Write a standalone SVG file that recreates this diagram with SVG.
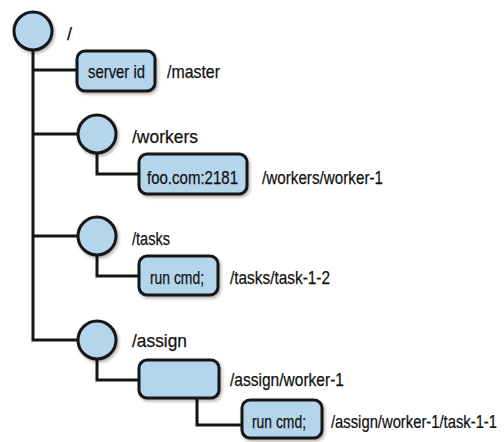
<svg xmlns="http://www.w3.org/2000/svg" width="504" height="442" viewBox="0 0 504 442">
<defs>
<filter id="sh" x="-20%" y="-20%" width="140%" height="150%">
<feDropShadow dx="1.5" dy="2" stdDeviation="1.5" flood-color="#000" flood-opacity="0.3"/>
</filter>
<style>
.n{fill:#b5d5ec;stroke:#151515;stroke-width:3;filter:url(#sh)}
.c{fill:none;stroke:#151515;stroke-width:3}
text{font-family:"Liberation Sans",Arial,sans-serif;font-size:19px;fill:#111;stroke:#111;stroke-width:0.25}
</style>
</defs>
<rect width="504" height="442" fill="#fff"/>
<g id="connectors">
<path class="c" d="M33 50V340H78"/>
<path class="c" d="M33 70H77"/>
<path class="c" d="M33 134H78"/>
<path class="c" d="M33 236H78"/>
<path class="c" d="M97 153V174H139"/>
<path class="c" d="M97 255V276H139"/>
<path class="c" d="M97 359V380H139"/>
<path class="c" d="M197 398V425H242"/>
</g>
<g id="root">
<circle class="n" cx="33" cy="31" r="19"/>
<text x="67" y="40" textLength="5" lengthAdjust="spacingAndGlyphs">/</text>
</g>
<g id="master">
<rect class="n" x="77" y="51" width="78" height="40" rx="8"/>
<text x="88" y="78" textLength="57" lengthAdjust="spacingAndGlyphs">server id</text>
<text x="167" y="78" textLength="53" lengthAdjust="spacingAndGlyphs">/master</text>
</g>
<g id="workers">
<circle class="n" cx="97" cy="134" r="19"/>
<text x="132" y="143" textLength="66" lengthAdjust="spacingAndGlyphs">/workers</text>
</g>
<g id="worker-1">
<rect class="n" x="139" y="154" width="108" height="40" rx="8"/>
<text x="147" y="184" textLength="91" lengthAdjust="spacingAndGlyphs">foo.com:2181</text>
<text x="262" y="184" textLength="121" lengthAdjust="spacingAndGlyphs">/workers/worker-1</text>
</g>
<g id="tasks">
<circle class="n" cx="97" cy="236" r="19"/>
<text x="132" y="245" textLength="38" lengthAdjust="spacingAndGlyphs">/tasks</text>
</g>
<g id="task-1-2">
<rect class="n" x="139" y="256" width="79" height="39" rx="8"/>
<text x="150" y="284" textLength="54" lengthAdjust="spacingAndGlyphs">run cmd;</text>
<text x="230" y="284" textLength="100" lengthAdjust="spacingAndGlyphs">/tasks/task-1-2</text>
</g>
<g id="assign">
<circle class="n" cx="97" cy="340" r="19"/>
<text x="132" y="347" textLength="55" lengthAdjust="spacingAndGlyphs">/assign</text>
</g>
<g id="assign-worker-1">
<rect class="n" x="139" y="360" width="80" height="38" rx="8"/>
<text x="230" y="386" textLength="114" lengthAdjust="spacingAndGlyphs">/assign/worker-1</text>
</g>
<g id="assign-task-1-1">
<rect class="n" x="242" y="400" width="80" height="38" rx="8"/>
<text x="252" y="428" textLength="54" lengthAdjust="spacingAndGlyphs">run cmd;</text>
<text transform="translate(331 428) scale(0.77 1)" x="0" y="0" textLength="215.6" lengthAdjust="spacingAndGlyphs">/assign/worker-1/task-1-1</text>
</g>
</svg>
